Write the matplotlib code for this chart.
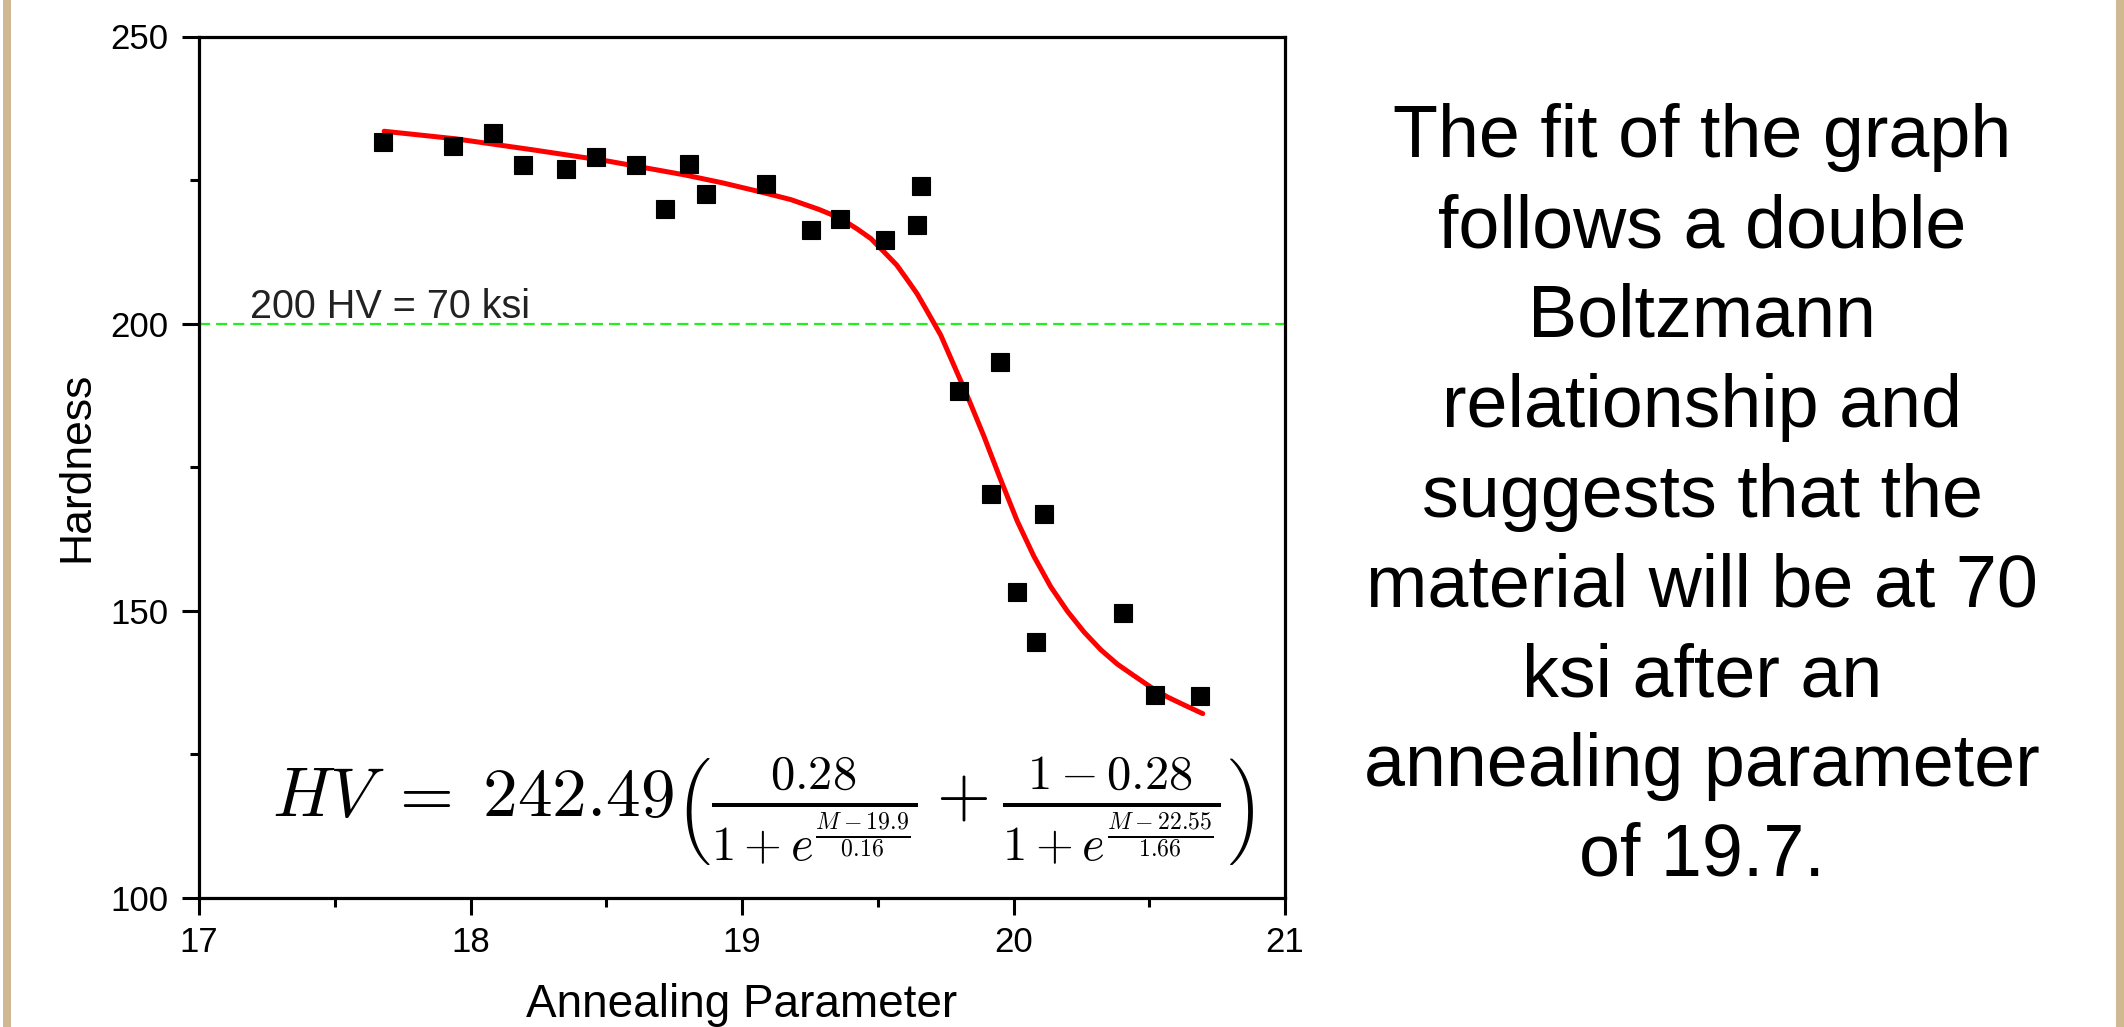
import matplotlib
matplotlib.use("Agg")
import matplotlib.pyplot as plt
from matplotlib.patches import Rectangle
from matplotlib.ticker import MultipleLocator

plt.rcParams["font.family"] = ["Liberation Sans", "DejaVu Sans"]
plt.rcParams["mathtext.fontset"] = "cm"
plt.rcParams["lines.scale_dashes"] = False

anneal = [17.676, 17.936, 18.084, 18.194, 18.351, 18.461, 18.610, 18.718,
          18.805, 18.867, 19.087, 19.253, 19.361, 19.525, 19.643, 19.659,
          19.801, 19.949, 19.917, 20.012, 20.114, 20.083, 20.404, 20.521,
          20.687]
hardness = [231.6, 230.9, 233.2, 227.7, 226.9, 229.1, 227.7, 220.0,
            227.8, 222.6, 224.3, 216.3, 218.3, 214.5, 217.1, 224.0,
            188.3, 193.4, 170.4, 153.3, 166.8, 144.5, 149.6, 135.4,
            135.1]

# red fit curve, traced point by point
fit_x = [17.682, 17.943, 18.225, 18.507, 18.789, 18.930, 19.072, 19.180,
         19.283, 19.360, 19.424, 19.475, 19.523, 19.570, 19.608, 19.645,
         19.678, 19.732, 19.769, 19.830, 19.891, 19.953, 20.014, 20.075,
         20.137, 20.199, 20.260, 20.322, 20.383, 20.444, 20.506, 20.567,
         20.629, 20.697]
fit_y = [233.5, 232.2, 230.3, 228.3, 225.9, 224.5, 222.9, 221.6,
         219.9, 218.4, 216.5, 214.8, 212.5, 210.2, 207.7, 205.2,
         202.5, 198.0, 194.0, 187.4, 180.4, 172.8, 165.6, 159.5,
         154.2, 149.9, 146.3, 143.2, 140.7, 138.7, 136.7, 135.0,
         133.6, 132.1]

THRESH = 200
THRESH_LABEL = "200 HV = 70 ksi"
EQUATION = (r"$HV\;=\;242.49\left(\frac{0.28}{1+e^{\frac{M-19.9}{0.16}}}"
            r"+\frac{1-0.28}{1+e^{\frac{M-22.55}{1.66}}}\right)$")
NOTE = ("The fit of the graph\nfollows a double\nBoltzmann\n"
        "relationship and\nsuggests that the\nmaterial will be at 70\n"
        "ksi after an\nannealing parameter\nof 19.7.")

fig = plt.figure(figsize=(21.24, 10.27), dpi=100)
fig.patch.set_facecolor("white")

# tan slide borders
tan = "#d0b992"
fig.patches.append(Rectangle((3 / 2124, 0), 8 / 2124, 1, transform=fig.transFigure,
                             color=tan, lw=0, zorder=0))
fig.patches.append(Rectangle((2116 / 2124, 0), 8 / 2124, 1, transform=fig.transFigure,
                             color=tan, lw=0, zorder=0))

ax = fig.add_axes([199 / 2124, 1 - 898 / 1027, 1086 / 2124, 861.5 / 1027])

ax.axhline(THRESH, color="#22ee22", lw=1.6, dashes=(8, 4.3), zorder=1)
ax.text(17.188, THRESH + 0.9, THRESH_LABEL, fontsize=28.5, color="#222222",
        ha="left", va="baseline")

ax.plot(fit_x, fit_y, color="#ff0000", lw=3.6, solid_capstyle="round",
        solid_joinstyle="round", zorder=2)
ax.plot(anneal, hardness, ls="none", marker="s", ms=12.8, mfc="black",
        mec="black", mew=0.8, zorder=3)

ax.text(19.08, 115.0, EQUATION, fontsize=50, ha="center", va="center")

ax.set_xlim(17, 21)
ax.set_ylim(100, 250)
ax.xaxis.set_major_locator(MultipleLocator(1))
ax.xaxis.set_minor_locator(MultipleLocator(0.5))
ax.yaxis.set_major_locator(MultipleLocator(50))
ax.yaxis.set_minor_locator(MultipleLocator(25))
ax.tick_params(which="both", direction="out", width=2.2, colors="black",
               labelsize=25, top=False, right=False)
ax.tick_params(which="major", length=12)
ax.tick_params(which="minor", length=6.5)
ax.tick_params(axis="x", which="major", pad=8)
ax.tick_params(axis="y", which="major", pad=10)
for s in ax.spines.values():
    s.set_linewidth(2.3)

ax.set_xlabel("Annealing Parameter", fontsize=33)
ax.xaxis.label.set_va("baseline")
ax.xaxis.set_label_coords(0.5, -0.1385)
ax.set_ylabel("Hardness", fontsize=32)
ax.yaxis.set_label_coords(-0.094, 0.5)

fig.text(1702 / 2124, 0.516, NOTE, fontsize=53, ha="center", va="center",
         linespacing=1.385, color="black")

fig.savefig("out.png", dpi=100, facecolor="white")
